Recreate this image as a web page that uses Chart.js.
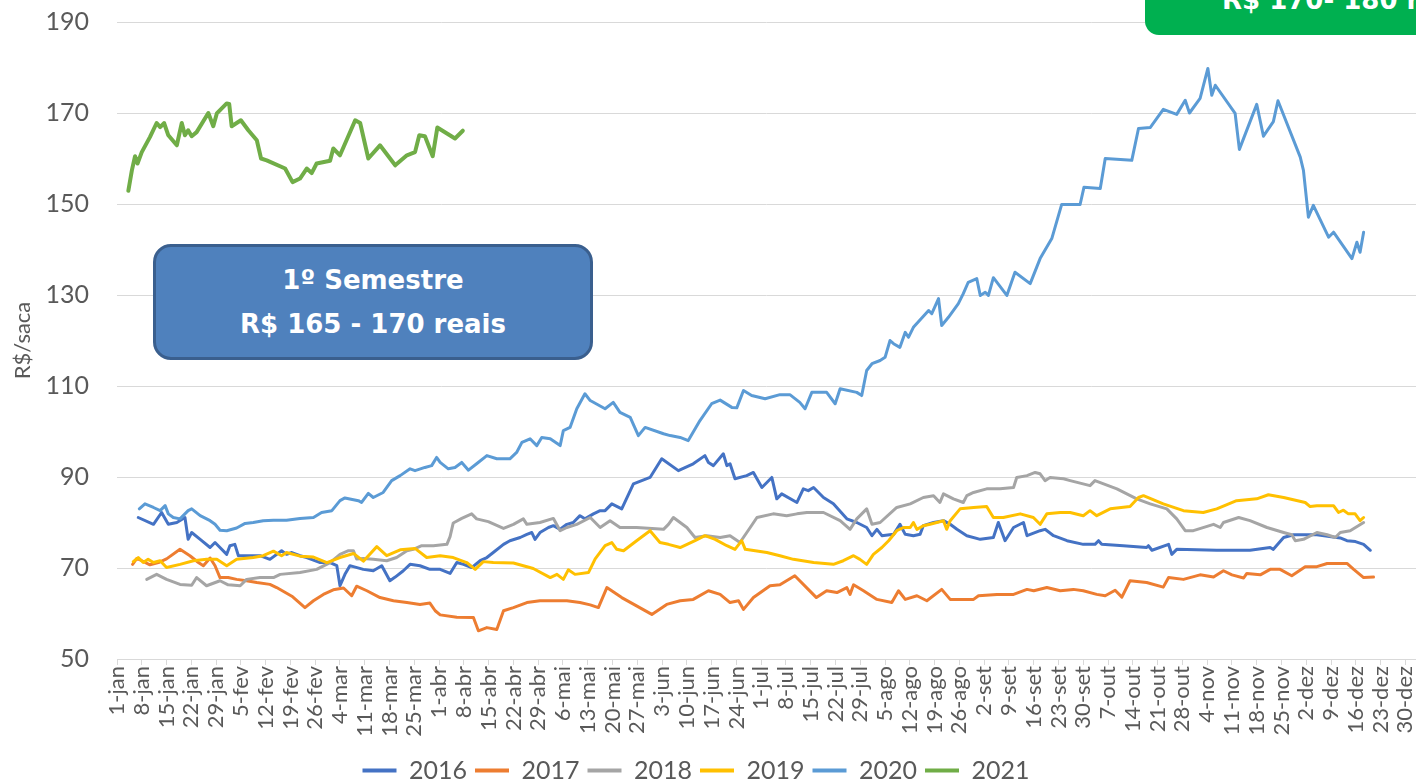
<!DOCTYPE html>
<html lang="pt-BR">
<head>
<meta charset="utf-8">
<title>Preço R$/saca 2016-2021</title>
<script src="https://cdn.jsdelivr.net/npm/chart.js@4/dist/chart.umd.min.js"></script>
<style>
  html, body { margin: 0; padding: 0; background: #fff; }
  #wrap { position: relative; width: 1416px; height: 783px; overflow: hidden; }
  #wrap canvas { position: absolute; left: 0; top: 0; }
  .box {
    position: absolute; color: #fff; font-family: "DejaVu Sans", sans-serif;
    font-weight: bold; font-size: 26px; white-space: nowrap;
  }
  #sem1 {
    left: 153px; top: 244px; width: 434px; height: 110px;
    background: #4f81bd; border: 3px solid #3a5f8e; border-radius: 18px;
    display: flex; flex-direction: column; justify-content: center; align-items: center;
    line-height: 44px;
  }
  #sem2 {
    left: 1145px; top: -40px; width: 400px; height: 75px;
    background: #00b050; border-radius: 14px;
    padding-left: 77px; box-sizing: border-box; line-height: 80px;
  }
</style>
</head>
<body>
<div id="wrap">
  <canvas id="chart" width="1416" height="783"></canvas>
  <div class="box" id="sem1"><div>1º Semestre</div><div>R$ 165 - 170 reais</div></div>
  <div class="box" id="sem2">R$ 170- 180 reais</div>
</div>
<script>
// weekly axis labels, one every 7 days starting at 1-jan (day 0)
const weekLabels = ['1-jan','8-jan','15-jan','22-jan','29-jan','5-fev','12-fev','19-fev','26-fev',
  '4-mar','11-mar','18-mar','25-mar','1-abr','8-abr','15-abr','22-abr','29-abr','6-mai','13-mai',
  '20-mai','27-mai','3-jun','10-jun','17-jun','24-jun','1-jul','8-jul','15-jul','22-jul','29-jul',
  '5-ago','12-ago','19-ago','26-ago','2-set','9-set','16-set','23-set','30-set','7-out','14-out',
  '21-out','28-out','4-nov','11-nov','18-nov','25-nov','2-dez','9-dez','16-dez','23-dez','30-dez']

const years = ['2016', '2017', '2018', '2019', '2020', '2021']
const lineColors = ['#4472c4', '#ed7d31', '#a5a5a5', '#ffc000', '#5b9bd5', '#70ad47']

// [day of year, R$/saca]
const s2016 = [[6,81.1],[10.3,79.6],[12.6,82.2],[14.5,79.6],[16.9,80.0],[19.2,81.1],[20.1,76.3],[21.1,77.8],
  [23.5,76.3],[26.3,74.5],[27.7,75.6],[28.6,74.9],[31,73],[31.9,74.9],[33.3,75.2],[34.3,72.7],[37.6,72.7],
  [40.4,72.7],[43.2,71.9],[46.5,73.8],[47.9,73],[49.4,73.4],[51.7,72.7],[53.6,72.3],[57.4,71.2],[60.2,71.2],
  [62.1,70.5],[63,66.1],[64.4,68.6],[65.8,70.5],[66.8,70.3],[69.6,69.7],[72.4,69.4],[74.8,70.5],[77.1,67.2],
  [78.6,68],[80.9,69.4],[82.8,70.8],[85.6,70.5],[88.4,69.7],[91.3,69.7],[94.1,68.8],[96,71.2],[97.9,70.8],
  [100.2,70.1],[102.6,71.6],[104.5,72.3],[106.3,73.4],[109.2,75.2],[111,76],[113.9,76.7],[115.8,77.4],
  [117.2,77.8],[118.1,76.3],[119.5,77.8],[121.9,78.9],[123.3,79.3],[125.2,78.5],[127.1,79.6],[128.9,80],
  [130.8,81.5],[132.2,80.8],[134.6,81.9],[136.5,82.6],[137.9,82.6],[139.8,84.1],[142.6,83],[145.9,88.5],
  [150.6,89.9],[153.9,94],[158.6,91.4],[162.8,92.9],[166.1,94.7],[167.1,93.2],[168.5,92.5],[171.3,95.1],
  [172.3,92.5],[173.2,92.9],[174.6,89.6],[177.9,90.3],[179.8,91],[182.2,87.7],[185,89.9],[186.4,85.2],
  [187.8,86.3],[192.1,84.4],[193.9,87.4],[195.3,87],[196.8,87.7],[199.6,85.5],[202.4,84.1],[206.2,80.8],
  [209,80],[211.8,78.9],[213.3,77.1],[214.7,78.5],[216.1,77.1],[219.4,77.4],[221.2,79.6],[222.7,77.4],
  [225,77.1],[226.9,77.4],[227.8,79.3],[230.7,80],[233.5,80.4],[235.4,79.6],[237.3,78.5],[240.1,77.1],
  [243.9,76.3],[247.6,76.7],[249,80],[250.9,76],[253.3,78.9],[256.1,80],[257.1,77.1],[260.8,78.2],
  [262.2,78.5],[264.6,77.1],[268.4,76],[273,75.2],[276.3,75.2],[277.3,76],[278.2,75.2],[284.3,74.9],
  [290.9,74.5],[291.4,74.9],[292.4,73.9],[297.1,75.2],[298,73],[299.4,74.1],[310.7,73.9],[320.1,73.9],
  [325.8,74.5],[326.7,74.1],[329.6,76.7],[332.4,77.3],[339,77.3],[345.6,76.6],[347.5,76],[349.9,75.8],
  [352.2,75.2],[354.1,73.9]]

const s2017 = [[4.4,70.8],[5.6,72.1],[7,71.6],[9.3,70.7],[11.7,71.2],[14,72],[17.8,74.1],[20.6,72.7],
  [23,71.2],[24.4,70.5],[26.3,72.2],[27.7,70.5],[29.1,67.9],[31.4,67.9],[33.8,67.5],[36.6,67.2],[39.5,66.8],
  [43.2,66.4],[45.1,65.7],[49.4,63.8],[53.1,61.3],[55.5,62.8],[58.3,64.2],[61.1,65.2],[64,65.6],[66.3,63.9],
  [67.7,66],[70.6,65],[74.3,63.5],[78.1,62.8],[81.9,62.4],[85.6,62],[88.4,62.3],[89.9,60.6],[91.3,59.7],
  [96,59.2],[100.7,59.1],[102.1,56.2],[104.5,56.9],[107.3,56.5],[109.2,60.6],[112,61.3],[115.8,62.4],
  [119.5,62.8],[123.3,62.8],[127.1,62.8],[130.8,62.4],[133.7,61.9],[136,61.3],[138.4,65.7],[142.6,63.5],
  [151.1,59.8],[155.3,62],[159.1,62.8],[162.8,63.1],[167.1,65],[170.4,64.2],[173.2,62.4],[175.6,62.8],
  [177,60.9],[179.8,63.5],[184.5,66.1],[187.3,66.3],[191.5,68.3],[195.3,65.3],[197.6,63.5],[200.5,65],
  [203.4,64.6],[206.2,65.7],[207.1,64.2],[208.1,66.3],[210.9,65],[214.7,63.1],[218.9,62.4],[220.8,65],
  [222.7,63.1],[226,63.9],[228.8,62.8],[233,65.3],[235.4,63.1],[242,63.1],[243.4,63.9],[248.6,64.2],
  [253.3,64.2],[257.1,65.3],[259,65],[262.7,65.7],[266.5,65],[270.2,65.3],[273,65],[276.8,64.2],[279.2,63.9],
  [282,65.1],[283.9,63.6],[286.2,67.2],[290.9,66.8],[295.6,65.8],[297.1,67.9],[301.3,67.5],[306,68.5],
  [309.8,68],[312.6,69.4],[315,68.5],[318.3,67.8],[319.2,68.8],[323,68.5],[325.8,69.7],[328.6,69.7],
  [331.9,68.3],[335.7,70.3],[339,70.3],[341.9,71],[347.5,71],[349.4,69.7],[352.2,67.9],[355,68]]

const s2018 = [[8.4,67.5],[11.2,68.6],[14,67.5],[17.8,66.4],[21.1,66.2],[22.5,67.9],[25.3,66.1],[29.1,67.2],
  [31.4,66.3],[34.8,66.1],[36.6,67.5],[40.4,67.9],[44.2,67.9],[46.1,68.6],[51.7,69],[56.4,69.7],[60.2,71.2],
  [63,73],[65.4,73.8],[66.8,73.8],[67.7,72],[69.6,72.1],[72.4,71.9],[76.2,71.6],[79,72.3],[81.9,73.8],
  [83.7,74.1],[86.1,74.9],[89.4,74.9],[93.2,75.2],[94.1,76.9],[95,79.9],[97.4,80.9],[100.2,81.9],[101.6,80.8],
  [104.9,80.2],[109.2,78.7],[112,79.6],[114.8,80.8],[115.8,79.6],[119.5,80],[123.3,80.9],[125.2,78.2],
  [127.1,78.9],[129.9,79.6],[133.7,81.1],[136.5,78.9],[139.3,80.4],[142.1,78.9],[146.8,78.9],[154.4,78.5],
  [155.8,79.6],[157.2,81.1],[161,78.9],[163.3,76.7],[166.6,77.1],[170.4,76.7],[173.2,77.1],[176,75.6],
  [178.9,78.9],[180.8,81.1],[185.4,81.9],[189.2,81.5],[192.1,81.9],[194.9,82.2],[199.6,82.2],[204.3,80.4],
  [207.1,78.5],[209,80.8],[211.8,83],[213.3,79.6],[215.6,80],[220.3,83.3],[224.1,84.1],[227.8,85.5],
  [230.7,85.9],[232.5,84.4],[233.5,86.3],[236.3,85.2],[239.1,84.4],[240.1,85.9],[242,86.6],[245.7,87.4],
  [249.5,87.4],[253.3,87.7],[254.2,89.9],[257.1,90.3],[259.4,91],[260.8,90.7],[262.2,89.2],[263.6,89.9],
  [267.4,89.6],[269.3,89.2],[274.9,88.1],[276.3,89.2],[282.5,87.4],[288.1,85.2],[291.9,84.1],[296.6,83],
  [299.4,80.8],[301.8,78.2],[304.1,78.2],[309.8,79.6],[311.7,78.9],[312.6,80],[316.9,81.1],[320.1,80.4],
  [324.9,78.9],[329.6,77.8],[331.9,77.3],[332.9,76],[335.2,76.3],[339,77.8],[341.9,77.3],[344.2,76.7],
  [345.6,77.8],[348.4,78.2],[352.2,80]]

const s2019 = [[4.6,71.4],[6,72.3],[7.4,71.2],[8.8,71.9],[10.3,71.2],[12.2,71.6],[14,70.1],[17.8,70.8],
  [21.6,71.6],[25.3,71.9],[28.2,71.9],[31,70.5],[33.8,71.9],[38.5,72.3],[41.3,72.7],[44.2,73.7],[46.5,72.7],
  [47.9,73.4],[51.7,72.6],[55.5,72.4],[59.3,71.2],[63,72.3],[66.8,73.2],[69.6,71.5],[73.4,74.7],[76.2,72.7],
  [80,74],[84.2,74.3],[87.5,72.3],[91.3,72.7],[95,72.3],[98.8,71.2],[101.2,69.7],[103.5,71.4],[106.3,71.2],
  [112,71.1],[117.6,69.9],[122.4,67.9],[124.3,68.6],[126.1,67.5],[127.5,69.6],[129.4,68.6],[133.2,69],
  [135.1,72],[137.9,74.9],[139.8,75.6],[141.2,74.1],[143.1,73.8],[146.8,76],[150.6,78.2],[153.4,75.6],
  [155.8,75.2],[159.1,74.5],[163.3,76],[166.1,77.1],[169,76.3],[172.3,74.9],[174.6,74.1],[176.5,76],
  [177.5,74.1],[183.6,73.4],[187.3,72.7],[191.1,71.9],[196.8,71.2],[202.4,70.8],[205.2,71.6],[208.1,72.7],
  [209.9,71.9],[211.8,70.8],[213.7,73],[216.1,74.5],[218,76],[220.3,78.2],[222.2,78.9],[224.1,78.9],
  [225,80],[226,78.5],[227.8,79.3],[229.7,79.6],[231.6,80],[233.5,80.4],[234.4,78.5],[235.4,80.4],
  [238.2,83],[242,83.3],[245.7,83.5],[247.6,81.1],[250.4,81.1],[255.2,81.9],[258.9,81.1],[260.8,79.6],
  [262.7,81.9],[266.5,82.2],[269.3,82.2],[273,81.5],[274.9,82.6],[276.8,81.5],[280.6,83],[286.2,83.5],
  [288.6,85.5],[290,85.9],[295.6,84.1],[301.3,82.6],[306.9,82.2],[310.7,83],[316.3,84.8],[322,85.2],
  [325.3,86.1],[329.6,85.5],[335.7,84.4],[337.1,83.5],[339,83.7],[343.7,83.7],[345.1,82.2],[346.5,82.7],
  [347.9,81.9],[349.8,81.9],[351.2,80.4],[352.2,81.1]]

const s2020 = [[6.3,83],[7.9,84.1],[10.3,83.3],[12.2,82.6],[13.6,83.7],[14.5,81.9],[15.9,81.1],[17.8,80.8],
  [20.1,82.6],[21.1,83],[23.5,81.5],[26.3,80.4],[27.7,79.6],[29.1,78.3],[31,78.2],[33.8,78.8],[36.2,79.8],
  [38.5,80],[41.3,80.4],[44.2,80.5],[47.9,80.5],[51.7,80.9],[55.5,81.1],[57.8,82.2],[60.7,82.6],[63,84.8],
  [64.4,85.4],[68.2,84.8],[69.1,84.4],[71,86.4],[72.4,85.5],[75.2,86.6],[77.6,89.2],[80,90.3],[82.8,91.8],
  [84.2,91.4],[87,92.1],[88.9,92.5],[90.3,94.3],[91.3,93.2],[93.6,91.8],[95.5,92.1],[97.4,93.2],[99.3,91.5],
  [101.6,92.9],[104.5,94.7],[107.3,94],[111,94],[112.9,95.4],[114.4,97.6],[116.7,98.4],[118.6,96.9],
  [120,98.7],[122.4,98.4],[125.2,96.9],[126.1,100.2],[128,100.9],[129.9,105],[132.2,108.3],[133.7,106.8],
  [137.9,105],[140.2,106.4],[142.1,104.2],[145,103.1],[147.3,99.1],[149.2,100.9],[154.4,99.5],[156.3,99.1],
  [159.1,98.7],[161.4,98],[164.7,102.4],[168,106.1],[170.4,106.9],[173.7,105.3],[175.1,105.2],[177,109],
  [179.3,107.9],[183.1,107.2],[187.3,108.1],[190.1,108.1],[192.9,106.4],[194.4,105],[196.3,108.6],
  [200.5,108.6],[202.9,106.1],[204.3,109.4],[209,108.6],[210.4,107.9],[211.8,113.4],[213.3,114.9],
  [215.6,115.6],[217,116.3],[218.4,120],[219.4,119.3],[221.2,118.5],[222.7,121.8],[223.6,120.7],[225,122.9],
  [229.3,126.6],[230.2,125.9],[232.1,129.2],[233,123.3],[234.9,125.1],[237.7,128.1],[239.1,130.3],
  [240.5,132.8],[242.9,133.6],[243.9,129.9],[245.3,130.6],[246.2,129.9],[247.6,133.8],[251.4,129.9],
  [253.7,135],[258,132.5],[260.8,138],[264.1,142.4],[266.9,149.9],[272.1,149.9],[273.2,153.7],[277.8,153.4],
  [279.2,160],[286.7,159.6],[288.6,166.6],[291.9,166.8],[295.6,170.8],[299.4,169.7],[301.8,172.8],[303,170],
  [306,173.2],[308.2,179.8],[309.3,173.9],[310.3,176.1],[315.9,169.9],[317.1,162],[322,171.9],[323.9,164.9],
  [326.7,168.1],[328,172.7],[334.3,160.3],[335.2,157.4],[336.6,147.1],[338,149.7],[342.3,142.7],[343.7,143.8],
  [348.9,138],[350.3,141.6],[351.2,139.4],[352.2,143.8]]

const s2021 = [[3.2,152.9],[4.2,157.4],[5.1,160.5],[5.8,158.9],[7,161.4],[9.3,164.7],[11.2,167.8],[12.2,166.9],
  [13.3,167.8],[14.5,165.1],[16.9,162.9],[18.3,167.8],[19.2,165.1],[20.1,166.2],[21.1,164.9],[22.5,165.8],
  [25.8,170],[27.2,167.1],[28.2,169.9],[31,172.1],[31.7,172],[32.4,167.1],[35,168.4],[37.1,166.2],[39.5,164],
  [40.7,160],[42.3,159.6],[47.5,157.8],[49.6,154.8],[51.7,155.6],[53.6,157.8],[55,156.8],[56.4,158.9],
  [60.2,159.5],[61.1,162.2],[63,160.7],[67.3,168.4],[68.7,167.8],[71,160],[74.3,162.9],[78.6,158.5],
  [81.9,160.7],[84.2,161.4],[85.4,165.1],[87,164.9],[89.2,160.5],[90.5,166.8],[95.5,164.4],[97.7,166.1]]

const series = [s2016, s2017, s2018, s2019, s2020, s2021]

const font = 'Lato, "Open Sans", sans-serif'
const grey = '#595959'

const datasets = years.map((yr, i) => ({
  label: yr,
  data: series[i].map(([x, y]) => ({ x: x, y: y })),
  borderColor: lineColors[i],
  backgroundColor: lineColors[i],
  borderWidth: yr === '2021' ? 4 : 3,
  borderJoinStyle: 'round',
  borderCapStyle: 'round',
  pointRadius: 0,
  tension: 0,
  // later years are painted over earlier ones
  order: years.length - 1 - i
}))

// nudge the bottom legend a little to the left of the canvas centre
const legendShift = {
  id: 'legendShift',
  afterLayout(chart) {
    chart.legend.left -= 12
    chart.legend.right -= 12
  }
}

new Chart(document.getElementById('chart'), {
  type: 'line',
  data: { datasets: datasets },
  plugins: [legendShift],
  options: {
    responsive: false,
    animation: false,
    layout: { padding: { top: 22, right: 0, bottom: -10, left: 0 } },
    scales: {
      x: {
        type: 'linear',
        min: 0,
        max: 367,
        afterBuildTicks: axis => { axis.ticks = weekLabels.map((_, i) => ({ value: i * 7 })) },
        afterFit: axis => {
          axis.height = 91
          // let the plot run to the right edge; the last label may overhang
          axis.paddingRight = 0
        },
        grid: { drawOnChartArea: false, drawTicks: true, tickLength: 6, color: '#d9d9d9' },
        border: { display: true, color: '#d9d9d9' },
        ticks: {
          autoSkip: false,
          minRotation: 90,
          maxRotation: 90,
          padding: 1,
          color: grey,
          font: { family: font, size: 22 },
          callback: (value, index) => weekLabels[index]
        }
      },
      y: {
        min: 50,
        max: 190,
        afterFit: axis => { axis.width = 117 },
        // invisible tick marks keep the labels clear of the plot
        grid: { color: '#d9d9d9', drawTicks: true, tickLength: 25, tickColor: 'rgba(0,0,0,0)' },
        border: { display: false },
        ticks: {
          stepSize: 20,
          padding: 3,
          color: grey,
          font: { family: font, size: 25 }
        },
        title: {
          display: true,
          text: 'R$/saca',
          color: grey,
          font: { family: font, size: 22 },
          padding: { top: 10, bottom: 0 }
        }
      }
    },
    plugins: {
      tooltip: { enabled: false },
      legend: {
        position: 'bottom',
        labels: {
          color: grey,
          font: { family: font, size: 25 },
          boxWidth: 34,
          boxHeight: 4,
          padding: 8,
          sort: (a, b) => a.datasetIndex - b.datasetIndex,
          generateLabels: chart => Chart.defaults.plugins.legend.labels.generateLabels(chart)
            .map(item => Object.assign(item, { lineWidth: 0 }))
        }
      }
    }
  }
})
</script>
</body>
</html>
